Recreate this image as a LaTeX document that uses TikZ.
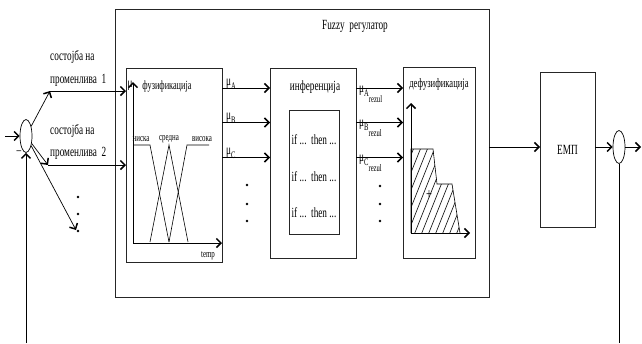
\documentclass[tikz,border=0pt]{standalone}
\usepackage{fontspec}
\setmainfont{Liberation Serif}[FakeStretch=0.66]
\usetikzlibrary{arrows.meta,shapes.geometric}
\begin{document}
\begin{tikzpicture}[x=1pt,y=-1pt,
  box/.style={draw=black!85,line width=0.7pt,inner sep=0pt,outer sep=0pt,anchor=north west},
  arr/.style={line width=0.7pt,-{Straight Barb[length=4.5pt,width=9pt,line width=1.5pt]}},
  ln/.style={line width=0.6pt},
  txt/.style={inner sep=0pt,font=\fontsize{14}{15}\selectfont},
  sm/.style={inner sep=0pt,font=\fontsize{10.5}{11}\selectfont},
  sumnode/.style={ellipse,draw,line width=0.7pt,minimum width=12pt,minimum height=33pt,inner sep=0pt},
  dotnode/.style={circle,fill,inner sep=0pt,minimum size=2.8pt}]
\useasboundingbox (0,0) rectangle (642,343);
% boxes
\node[box,minimum width=374pt,minimum height=288pt] (reg) at (115,9) {};
\node[txt] (title) at (355,26) {Fuzzy\ \ регулатор};
\node[box,minimum width=96pt,minimum height=194pt] (fuz) at (126,68) {};
\node[box,minimum width=86pt,minimum height=190pt] (inf) at (270,68) {};
\node[box,minimum width=50pt,minimum height=124pt] (rules) at (289,110) {};
\node[box,minimum width=72pt,minimum height=191pt] (def) at (403,67) {};
\node[box,minimum width=55pt,minimum height=155pt,font=\fontsize{14}{15}\selectfont] (emp) at (540,72) {ЕМП};
\node[sumnode] (s1) at (26,136) {};
\node[sumnode] (s2) at (619,147) {};
% coordinates
\coordinate (in) at (5,136);
\coordinate (b1) at (50,91);
\coordinate (b2) at (48,165);
\coordinate (b3) at (76,230);
\coordinate (fb1) at (26,343);
\coordinate (fb2) at (619,343);
\coordinate (out) at (641,147);
\coordinate (ya) at (0,88);
\coordinate (yb) at (0,122.5);
\coordinate (yc) at (0,157.5);
% left side
\draw[arr] (in) -- (s1);
\draw[arr] (s1) -- (b1);
\draw[arr] (s1) -- (b2);
\draw[arr] (s1) -- (b3);
\draw[arr] (b1) -- (b1 -| fuz.west);
\draw[arr] (b2) -- (b2 -| fuz.west);
\draw[arr] (fb1) -- (s1);
\node[txt] (minus) at (19,153) {–};
\node[txt,anchor=west] (l1a) at (50,57) {состојба на};
\node[txt,anchor=west] (l1b) at (50,80) {променлива\ \ 1};
\node[txt,anchor=west] (l2a) at (50,131) {состојба на};
\node[txt,anchor=west] (l2b) at (50,153) {променлива\ \ 2};
\node[dotnode] (d1) at (78,197) {};
\node[dotnode] (d2) at (78,214) {};
\node[dotnode] (d3) at (78,231) {};
% fuzzification
\node[inner sep=0pt,font=\fontsize{12.5}{13}\selectfont] (fuzt) at (167,87) {фузификација};
\node[txt] (mu0) at (130,86) {μ};
\coordinate (fo) at (133,243);
\coordinate (fy) at (133,82);
\coordinate (fx) at (222,243);
\draw[arr] (fo) -- (fy);
\draw[arr] (fo) -- (fx);
\draw[ln] (133,145) -- (150,145) -- (169,242);
\draw[ln] (150,242) -- (169,145) -- (188,242);
\draw[ln] (169,242) -- (187,145) -- (209,145);
\node[sm] (nis) at (141,139) {ниска};
\node[sm] (sre) at (169,139) {средна};
\node[sm] (vis) at (202,139) {висока};
\node[sm] (temp) at (208,256) {temp};
\draw[arr] (fuz.east |- ya) -- (inf.west |- ya);
\draw[arr] (fuz.east |- yb) -- (inf.west |- yb);
\draw[arr] (fuz.east |- yc) -- (inf.west |- yc);
\node[txt,anchor=west] (muA) at (226,84) {μ\raisebox{-4pt}{\fontsize{10}{10}\selectfont A}};
\node[txt,anchor=west] (muB) at (226,118) {μ\raisebox{-4pt}{\fontsize{10}{10}\selectfont B}};
\node[txt,anchor=west] (muC) at (226,153) {μ\raisebox{-4pt}{\fontsize{10}{10}\selectfont C}};
\node[dotnode] (e1) at (247,185) {};
\node[dotnode] (e2) at (247,204) {};
\node[dotnode] (e3) at (247,221) {};
% inference
\node[txt] (inft) at (315,87) {инференција};
\node[txt] (r1) at (314,140) {if\,...\ \ then ...};
\node[txt] (r2) at (314,177) {if\,...\ \ then ...};
\node[txt] (r3) at (314,213) {if\,...\ \ then ...};
\draw[arr] (inf.east |- ya) -- (def.west |- ya);
\draw[arr] (inf.east |- yb) -- (def.west |- yb);
\draw[arr] (inf.east |- yc) -- (def.west |- yc);
\node[txt,anchor=west] (mrA) at (359,94) {μ\raisebox{-4pt}{\fontsize{10}{10}\selectfont A\raisebox{-6pt}{rezul}}};
\node[txt,anchor=west] (mrB) at (359,128) {μ\raisebox{-4pt}{\fontsize{10}{10}\selectfont B\raisebox{-6pt}{rezul}}};
\node[txt,anchor=west] (mrC) at (359,163) {μ\raisebox{-4pt}{\fontsize{10}{10}\selectfont C\raisebox{-6pt}{rezul}}};
\node[dotnode] (g1) at (380,186) {};
\node[dotnode] (g2) at (380,204) {};
\node[dotnode] (g3) at (380,221) {};
% defuzzification
\node[inner sep=0pt,font=\fontsize{13}{14}\selectfont] (deft) at (439,84) {дефузификација};
\coordinate (do) at (411,233);
\coordinate (dy) at (411,103);
\coordinate (dx) at (470,233);
\begin{scope}
\clip (411,233) -- (411,149) -- (433,149) -- (437,184) -- (452,184) -- (460,233) -- cycle;
\foreach \i in {370,377,...,470} \draw[ln] (\i,240) -- ++(40,-100);
\end{scope}
\draw[ln] (411,233) -- (411,149) -- (433,149) -- (437,184) -- (452,184) -- (460,233);
\draw[arr] (do) -- (dy);
\draw[arr] (do) -- (dx);
\node[inner sep=0pt,font=\fontsize{16}{16}\selectfont] (plus) at (429,195) {+};
% output
\draw[arr] (reg.east |- s2) -- (emp.west |- s2);
\draw[arr] (emp.east |- s2) -- (s2);
\draw[arr] (s2) -- (out);
\draw[ln] (s2) -- (fb2);
\end{tikzpicture}
\end{document}
